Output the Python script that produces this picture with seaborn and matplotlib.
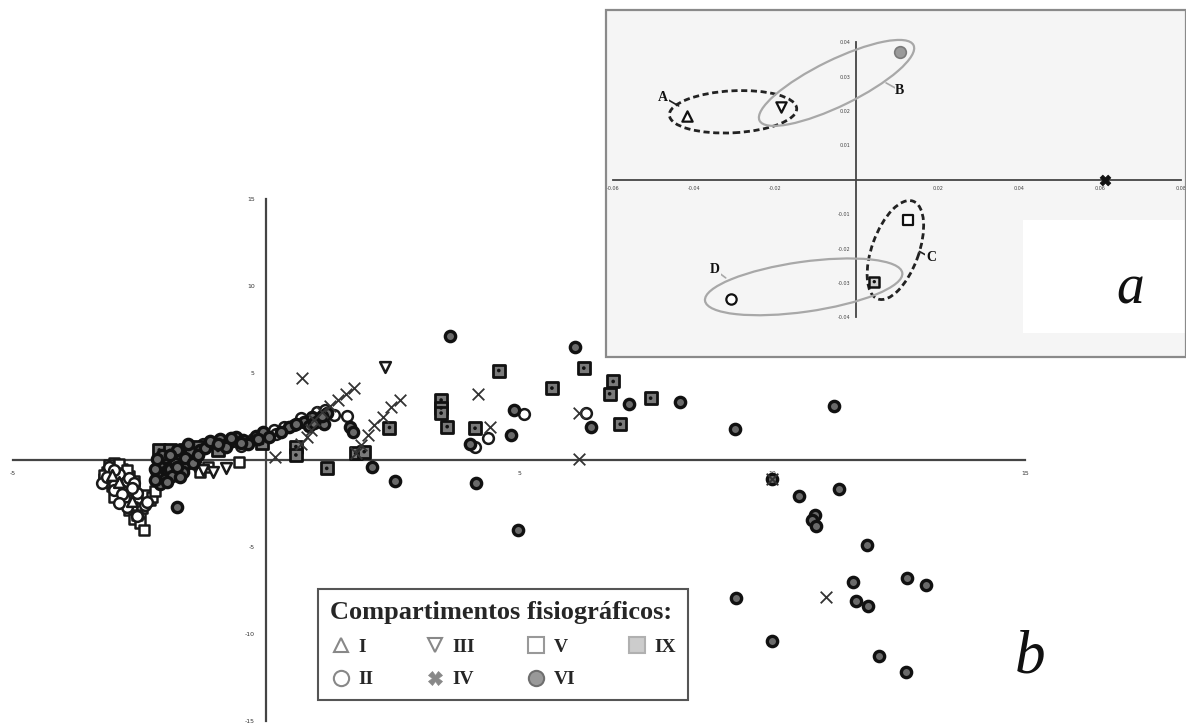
import matplotlib
matplotlib.use('Agg')
import matplotlib.pyplot as plt
import seaborn as sns
from matplotlib.patches import Ellipse, Rectangle
from matplotlib.transforms import Affine2D
from matplotlib.lines import Line2D

sns.set_theme(style='white')
plt.rcParams['font.family'] = ['DejaVu Sans']
plt.rcParams['axes.unicode_minus'] = False

# ---- main ordination (b): scores per physiographic compartment ----
i_x = [-2.9, -2.65, -3.05]
i_y = [-1.25, -2.35, -0.85]

ii_x = [-3.1, -2.9, -3.25, -2.75, -3.0, -2.55, -2.8, -2.4, -2.75, -2.55,
        -3.0, -2.7, -2.6, -2.85, -2.35, -3.15, -2.65, -2.9,
        -1.25, -0.95, -0.5, -0.25, 0.15, 0.35, 0.55, 0.7, 1.0, 1.16, 1.35,
        -0.65, 0.2, 1.61, 4.12, 4.38, 5.09, 6.32]
ii_y = [-0.4, -0.8, -1.3, -1.2, -1.7, -1.9, -2.2, -2.6, -2.7, -3.2,
        -0.55, -1.05, -1.35, -1.95, -2.4, -1.0, -1.6, -2.45,
        0.9, 0.85, 0.8, 1.2, 1.75, 1.9, 2.0, 2.4, 2.75, 2.89, 2.6,
        1.1, 1.5, 2.54, 0.73, 1.25, 2.65, 2.69]

iii_x = [2.36, -1.25, -1.05, -1.4, -0.8]
iii_y = [5.38, -0.55, -0.7, -0.35, -0.45]

iv_x = [0.72, 1.73, 1.58, 1.42, 1.26, 1.1, 0.95, 0.88, 0.8, 0.7,
        2.64, 2.47, 2.31, 2.14, 2.01, 1.88, 1.78, 0.17, 4.19, 4.42,
        6.18, 6.18, 11.06, 10.0]
iv_y = [4.71, 4.14, 3.8, 3.46, 3.1, 2.75, 2.3, 1.75, 1.3, 0.95,
        3.46, 3.04, 2.5, 2.02, 1.44, 0.87, 0.39, 0.17, 3.81, 1.89,
        2.73, 0.05, -7.89, -1.1]

v_x = [-3.0, -3.15, -2.85, -3.2, -2.95, -2.7, -3.05, -2.8, -2.6, -2.95,
       -2.7, -2.45, -2.85, -2.6, -2.3, -2.7, -2.5, -2.6, -2.5, -2.41,
       -3.1, -2.9, -3.2, -2.8, -3.1, -2.9, -2.75, -3.0, -2.55, -2.65,
       -2.45, -2.55, -2.35, -2.25, -3.0, -2.75, -2.6,
       -2.2, -1.3, -1.15, -0.53]
v_y = [-0.2, -0.7, -0.5, -1.1, -1.0, -0.9, -1.5, -1.4, -1.6, -1.9,
       -2.0, -2.1, -2.4, -2.5, -2.3, -2.9, -3.0, -3.4, -3.6, -4.0,
       -0.3, -0.25, -0.85, -0.75, -1.25, -1.65, -1.75, -2.1, -2.25, -2.7,
       -2.75, -3.15, -2.0, -2.1, -1.35, -0.55, -1.2,
       -1.8, -0.7, -0.4, -0.1]

vi_x = [-1.76, -2.1, -2.0, -1.9, -2.15, -2.0, -1.85, -2.1, -1.7, -1.6,
        -1.5, -1.4, -1.3, -1.55, -1.75, -2.05, -1.8, -1.65,
        -2.2, -1.95, -2.2, -1.75, -1.6, -1.45, -1.9, -2.15, -1.7, -1.35, -1.2,
        -1.1, -0.9, -0.75, -0.6, -0.45, -0.35, -0.2, -0.05, 0.05, 0.45,
        0.75, 0.9, 1.05, 1.2, 0.85, 1.15, -0.8,
        -0.95, -0.7, -0.5, 0.6, 0.95, 1.1, -0.15, 0.3,
        1.65, 1.71, 2.09, 2.55, 3.64, 4.03, 4.15, 4.84, 4.90, 4.98,
        6.10, 6.42, 7.17, 8.18,
        9.26, 11.22, 10.0, 10.53, 11.33, 10.85, 10.78, 10.87, 11.88, 11.6,
        12.66, 13.04, 11.65, 11.9, 9.28, 9.99, 12.11, 12.65]
vi_y = [-2.69, -0.2, 0.1, -0.5, -0.8, -1.1, -0.9, -1.4, 0.2, -0.3,
        0.5, 0.0, 0.6, 0.9, 0.6, 0.3, -0.2, -0.7,
        -0.5, -1.25, -1.15, -0.4, 0.1, -0.2, 0.3, 0.05, -1.0, 0.3, 0.7,
        1.1, 1.2, 1.0, 1.3, 1.15, 0.9, 1.4, 1.6, 1.3, 1.9,
        2.2, 2.5, 2.3, 2.7, 1.95, 2.05, 0.75,
        0.95, 1.25, 1.0, 2.05, 2.15, 2.55, 1.2, 1.6,
        1.92, 1.63, -0.39, -1.21, 7.11, 0.92, -1.31, 1.44, 2.89, -4.04,
        6.48, 1.89, 3.21, 3.31,
        1.79, 3.08, -1.1, -2.08, -1.69, -3.17, -3.46, -3.79, -4.9, -7.02,
        -6.77, -7.17, -8.14, -8.41, -7.92, -10.42, -11.25, -12.21]

ix_x = [-2.11, -1.95, -1.8, -1.6, -1.33, -1.45, -0.07, 0.59, 0.59, 1.2,
        1.77, 1.94, 2.44, 3.46, 3.46, 3.46, 3.58, 4.13, 4.60, 5.65,
        6.28, 6.86, 6.79, 7.60, 7.00, -0.95, -2.05, -1.9, -1.7]
ix_y = [0.58, -0.2, -0.6, 0.6, 0.77, 0.3, 0.96, 0.77, 0.29, -0.48,
        0.39, 0.48, 1.87, 3.45, 3.0, 2.7, 1.92, 1.83, 5.15, 4.14,
        5.29, 4.52, 3.81, 3.56, 2.06, 0.55, -0.95, 0.55, -0.15]

# ---- inset (a): compartment centroids ----
cent_names = ['I', 'II', 'III', 'IV', 'V', 'VI', 'IX']
cent_x = [-0.0417, -0.0310, -0.0185, 0.0613, 0.0128, 0.0108, 0.0044]
cent_y = [0.0187, -0.0347, 0.0213, 0.0, -0.0118, 0.0371, -0.0296]

# ellipse groups: centre (data), size in px, angle, dashed or not
groups = ['A', 'B', 'C', 'D']
grp_cx = [-0.0304, -0.0049, 0.0096, -0.0130]
grp_cy = [0.0198, 0.0282, -0.0204, -0.0311]
grp_w = [128, 172, 104, 200]
grp_h = [42, 46, 47, 50]
grp_ang = [3, 26, 70, 8]
grp_dash = [True, False, True, False]
lab_x = [-0.0476, 0.0107, 0.0184, -0.0348]
lab_y = [0.0241, 0.0260, -0.0227, -0.0262]
lead_x = [-0.0438, 0.0073, 0.0155, -0.0322]
lead_y = [0.0215, 0.0282, -0.0208, -0.0285]

serif = 'Liberation Serif'

fig = plt.figure(figsize=(11.86, 7.24), dpi=100)
fig.patch.set_facecolor('white')

ax = fig.add_axes([0, 0, 1, 1])
ax.set_xlim(-5.257, 18.18)
ax.set_ylim(-15.19, 26.47)
ax.set_facecolor('white')
for s in ['top', 'right']:
    ax.spines[s].set_visible(False)
ax.spines['left'].set_position(('data', 0))
ax.spines['bottom'].set_position(('data', 0))
ax.spines['left'].set_bounds(-15, 15)
ax.spines['bottom'].set_bounds(-5, 15)
for s in ['left', 'bottom']:
    ax.spines[s].set_linewidth(1.6)
    ax.spines[s].set_color('#444444')
ax.set_xticks([-5, 5, 10, 15])
ax.set_yticks([-15, -10, -5, 5, 10, 15])
ax.tick_params(direction='inout', length=14, width=1.4, labelsize=4.5,
               pad=1, color='#444444', labelcolor='#333333')

edge = '#1a1a1a'
open_kw = dict(color='white', edgecolor=edge, linewidth=1.8, legend=False, ax=ax)
sns.scatterplot(x=v_x, y=v_y, marker='s', s=55, zorder=3, **open_kw)
sns.scatterplot(x=ii_x, y=ii_y, marker='o', s=60, zorder=3, **open_kw)
sns.scatterplot(x=i_x, y=i_y, marker='^', s=60, zorder=3, **open_kw)
sns.scatterplot(x=iii_x, y=iii_y, marker='v', s=60, zorder=3, **open_kw)
sns.scatterplot(x=ix_x, y=ix_y, marker='s', s=80, color='#7a7a7a',
                edgecolor='#111111', linewidth=2.0, legend=False, ax=ax, zorder=4)
sns.scatterplot(x=ix_x, y=ix_y, marker='o', s=7, color='#111111',
                edgecolor='none', legend=False, ax=ax, zorder=4)
sns.scatterplot(x=vi_x, y=vi_y, marker='o', s=55, color='#6a6a6a',
                edgecolor='#111111', linewidth=2.4, legend=False, ax=ax, zorder=5)
sns.scatterplot(x=iv_x, y=iv_y, marker='x', s=70, color='#333333',
                linewidth=1.3, legend=False, ax=ax, zorder=6)

fig.text(1030 / 1186, 1 - 658 / 724, 'b', family=serif, style='italic',
         fontsize=44, ha='center', va='center', color='#111111')

# legend
handles = [
    Line2D([], [], ls='', marker='^', ms=10, mfc='white', mec='#888888', mew=1.5),
    Line2D([], [], ls='', marker='o', ms=11, mfc='white', mec='#888888', mew=1.5),
    Line2D([], [], ls='', marker='v', ms=10, mfc='white', mec='#888888', mew=1.5),
    Line2D([], [], ls='', marker='X', ms=10, mfc='#888888', mec='#888888', mew=0.5),
    Line2D([], [], ls='', marker='s', ms=11, mfc='white', mec='#999999', mew=1.5),
    Line2D([], [], ls='', marker='o', ms=11, mfc='#999999', mec='#6f6f6f', mew=1.5),
    Line2D([], [], ls='', marker='s', ms=11, mfc='#cccccc', mec='#b0b0b0', mew=1.5),
]
leg = fig.legend(handles, cent_names, ncol=4, loc='lower left',
                 bbox_to_anchor=(318 / 1186, 1 - 700 / 724), borderaxespad=0,
                 title='Compartimentos fisiográficos:', alignment='left',
                 prop={'family': serif, 'weight': 'bold', 'size': 14},
                 title_fontproperties={'family': serif, 'weight': 'bold', 'size': 19},
                 frameon=True, fancybox=False, framealpha=1, edgecolor='#555555',
                 handletextpad=0.3, columnspacing=2.55, labelspacing=0.75,
                 borderpad=0.6, handlelength=1.2)
leg.get_frame().set_linewidth(1.5)

# ---- inset ----
ax_in = fig.add_axes([606 / 1186, 1 - 357 / 724, 580 / 1186, 347 / 724])
ax_in.set_facecolor('#f5f5f5')
ax_in.set_xlim(-0.0617, 0.0812)
ax_in.set_ylim(-0.0515, 0.0494)
for s in ['top', 'right']:
    ax_in.spines[s].set_visible(False)
ax_in.spines['left'].set_position(('data', 0))
ax_in.spines['bottom'].set_position(('data', 0))
ax_in.spines['left'].set_bounds(-0.04, 0.04)
ax_in.spines['bottom'].set_bounds(-0.06, 0.08)
for s in ['left', 'bottom']:
    ax_in.spines[s].set_linewidth(1.3)
    ax_in.spines[s].set_color('#444444')
ax_in.set_xticks([-0.06, -0.04, -0.02, 0.02, 0.04, 0.06, 0.08])
ax_in.set_yticks([-0.04, -0.03, -0.02, -0.01, 0.01, 0.02, 0.03, 0.04])
ax_in.tick_params(direction='inout', length=7, width=1.1, labelsize=3.5,
                  pad=1, color='#444444', labelcolor='#444444')
ax_in.add_patch(Rectangle((0.719, 0.069), 0.281, 0.326, transform=ax_in.transAxes,
                          facecolor='white', edgecolor='none', zorder=0.5))
ax_in.add_patch(Rectangle((0, 0), 1, 1, transform=ax_in.transAxes, fill=False,
                          edgecolor='#8a8a8a', lw=1.6, clip_on=False, zorder=10))

# ellipses drawn in (roughly) screen pixel units, centred on data coordinates
sx, sy = 0.02 / 81.5, 0.01 / 34.4
for k in range(len(groups)):
    if grp_dash[k]:
        kw = dict(edgecolor='#222222', linestyle=(0, (2.2, 1.3)), lw=2.0)
    else:
        kw = dict(edgecolor='#a8a8a8', linestyle='-', lw=1.6)
    e = Ellipse((grp_cx[k] / sx, grp_cy[k] / sy), grp_w[k], grp_h[k], angle=grp_ang[k],
                fill=False, transform=Affine2D().scale(sx, sy) + ax_in.transData,
                zorder=3, **kw)
    ax_in.add_patch(e)
    ax_in.plot([lead_x[k], lab_x[k]], [lead_y[k], lab_y[k]], color=kw['edgecolor'],
               lw=1.2, zorder=3)
    ax_in.text(lab_x[k], lab_y[k], groups[k], family=serif, weight='bold',
               fontsize=10, ha='center', va='center', color='#111111', zorder=4,
               bbox=dict(facecolor='#f5f5f5', edgecolor='none', pad=0.5))

in_styles = {
    'I': dict(marker='^', s=55, color='white', edgecolor='#111111', linewidth=1.6),
    'II': dict(marker='o', s=55, color='white', edgecolor='#111111', linewidth=1.6),
    'III': dict(marker='v', s=55, color='white', edgecolor='#111111', linewidth=1.6),
    'IV': dict(marker='X', s=60, color='#111111', edgecolor='#111111', linewidth=0.5),
    'V': dict(marker='s', s=60, color='white', edgecolor='#111111', linewidth=1.6),
    'VI': dict(marker='o', s=70, color='#9a9a9a', edgecolor='#7a7a7a', linewidth=1.2),
    'IX': dict(marker='s', s=60, color='#cfcfcf', edgecolor='#111111', linewidth=1.8),
}
for k, name in enumerate(cent_names):
    sns.scatterplot(x=[cent_x[k]], y=[cent_y[k]], ax=ax_in, legend=False, zorder=5,
                    **in_styles[name])
sns.scatterplot(x=[cent_x[6]], y=[cent_y[6]], marker='o', s=6, color='#111111',
                edgecolor='none', ax=ax_in, legend=False, zorder=6)

fig.text(1130 / 1186, 1 - 290 / 724, 'a', family=serif, style='italic',
         fontsize=40, ha='center', va='center', color='#111111')

fig.savefig('out.png', dpi=100)
